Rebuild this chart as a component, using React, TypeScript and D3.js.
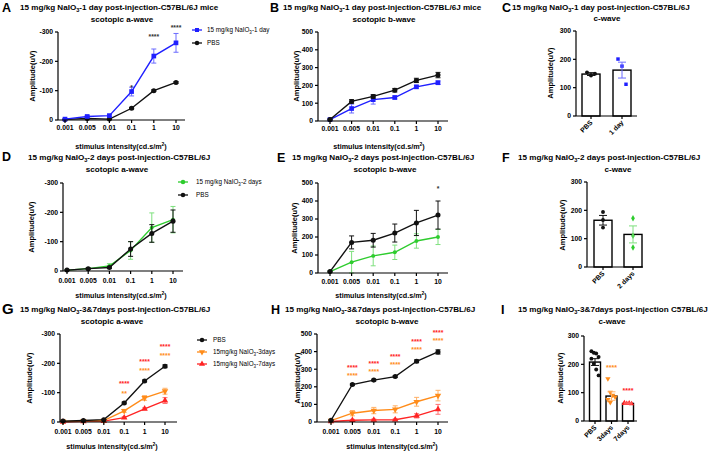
import React from "react";
import * as d3 from "d3";

const FONT = "'Liberation Sans', Arial, sans-serif";

const intensities = ["0.001", "0.005", "0.01", "0.1", "1", "10"];

// Panel A – a-wave, 1 day
const aDay1Mean = [3, 12, 15, 97, 218, 263];
const aDay1Err = [2, 3, 3, 15, 24, 32];
const aPbs1Mean = [2, 5, 3, 40, 100, 128];
const aPbs1Err = [1, 1, 1, 3, 3, 3];
// Panel B – b-wave, 1 day
const bPbs1Mean = [8, 110, 138, 173, 228, 258];
const bPbs1Err = [3, 10, 10, 10, 12, 15];
const bDay1Mean = [8, 70, 120, 132, 192, 215];
const bDay1Err = [3, 25, 25, 8, 8, 10];
// Panel C – c-wave, 1 day
const cGroups = ["PBS", "1 day"];
const cMean = [148, 162];
const cSem = [5, 28];
const cPtsPbs = [154, 143, 149];
const cPtsDay = [201, 176, 112];
// Panel D – a-wave, 2 days
const dDay2Mean = [3, 8, 17, 70, 148, 175];
const dDay2Err = [2, 3, 8, 30, 50, 45];
const dPbs2Mean = [3, 8, 12, 75, 128, 170];
const dPbs2Err = [1, 2, 3, 25, 30, 38];
// Panel E – b-wave, 2 days
const ePbs2Mean = [8, 170, 182, 222, 278, 322];
const ePbs2Err = [3, 36, 38, 50, 70, 78];
const eDay2Mean = [8, 60, 95, 115, 178, 200];
const eDay2Err = [3, 60, 55, 40, 40, 42];
// Panel F – c-wave, 2 days
const fGroups = ["PBS", "2 days"];
const fMean = [165, 115];
const fSem = [17, 30];
const fPtsPbs = [194, 166, 139];
const fPtsDay = [172, 110, 69];
// Panel G – a-wave, 3 & 7 days
const gPbsMean = [3, 5, 8, 65, 140, 190];
const gPbsErr = [1, 1, 1, 3, 3, 5];
const g3Mean = [2, 4, 5, 38, 82, 105];
const g3Err = [1, 1, 1, 5, 8, 10];
const g7Mean = [0, 2, 3, 15, 45, 73];
const g7Err = [1, 1, 1, 3, 3, 10];
// Panel H – b-wave, 3 & 7 days
const hPbsMean = [10, 213, 238, 258, 345, 398];
const hPbsErr = [3, 5, 5, 5, 8, 12];
const h3Mean = [8, 50, 65, 72, 115, 150];
const h3Err = [3, 15, 18, 20, 25, 30];
const h7Mean = [3, 10, 12, 13, 35, 72];
const h7Err = [2, 5, 5, 5, 12, 28];
// Panel I – c-wave, 3 & 7 days
const iGroups = ["PBS", "3days", "7days"];
const iMean = [208, 88, 62];
const iSem = [12, 15, 2];
const iPtsPbs = [246, 241, 238, 226, 220, 202, 182, 161];
const iPts3 = [149, 101, 91, 85, 76, 65];
const iPts7 = [64, 62, 63, 61, 62];

const BLUE = "#1f1fff";
const BLUE_E = "#6b6bff";
const GREEN = "#2ecc2e";
const GREEN_E = "#7ee07e";
const ORANGE = "#ff8c1a";
const ORANGE_E = "#ffb066";
const RED = "#ff2424";
const RED_E = "#ff7070";
const BLACK = "#111";

type Mk = "circle" | "square" | "tri" | "tridown" | "diamond";

const symPath = (t: Mk, size: number) => {
  const map: any = {
    circle: d3.symbolCircle,
    square: d3.symbolSquare,
    tri: d3.symbolTriangle,
    tridown: d3.symbolTriangle,
    diamond: d3.symbolDiamond,
  };
  return d3.symbol().type(map[t]).size(size)() as string;
};

function Marker({ t, x, y, color, size = 22 }: any) {
  return (
    <path
      d={symPath(t, size)}
      transform={`translate(${x},${y})${t === "tridown" ? " rotate(180)" : ""}`}
      fill={color}
    />
  );
}

type Series = { mean: number[]; err: number[]; color: string; errColor: string; mk: Mk; size?: number };
type Star = { i: number; v: number; text: string; color: string };

function XLabel({ x, y }: any) {
  return (
    <text x={x} y={y} textAnchor="middle" fontSize={7.2} fontWeight="bold" fontFamily={FONT}>
      stimulus intensity(cd.s/m
      <tspan fontSize={5} dy={-3}>2</tspan>
      <tspan dy={3}>)</tspan>
    </text>
  );
}

function YLabel({ x, y }: any) {
  return (
    <text
      transform={`translate(${x},${y}) rotate(-90)`}
      textAnchor="middle"
      fontSize={7.5}
      fontWeight="bold"
      fontFamily={FONT}
    >
      Amplitude(uV)
    </text>
  );
}

function Title({ letter, lx, ly, lsize = 12.5, x1, y1, rest, cx2, y2, line2 }: any) {
  return (
    <g fontFamily={FONT} fontWeight="bold">
      {letter ? (
        <text x={lx} y={ly} fontSize={lsize}>
          {letter}
        </text>
      ) : null}
      <text x={x1} y={y1} fontSize={8.1}>
        15 mg/kg NaIO
        <tspan fontSize={5.6} dy={2}>3</tspan>
        <tspan dy={-2}>{rest}</tspan>
      </text>
      <text x={cx2} y={y2} fontSize={8.1} textAnchor="middle">
        {line2}
      </text>
    </g>
  );
}

function LineChart(p: {
  axisX: number; yTop: number; yBottom: number; xFirst: number; xLast: number; xEnd: number;
  yMax: number; yTicks: number[]; negate?: boolean; series: Series[]; stars?: Star[];
  tickLabelY: number;
}) {
  const x = d3.scalePoint<string>().domain(intensities).range([p.xFirst, p.xLast]);
  const y = d3.scaleLinear().domain([0, p.yMax]).range([p.yBottom, p.yTop]);
  const line = d3
    .line<number>()
    .x((_, i) => x(intensities[i]) as number)
    .y((d) => y(d));
  return (
    <g fontFamily={FONT}>
      {p.series.map((s, si) => (
        <g key={si}>
          {s.mean.map((m, i) => {
            const cx = x(intensities[i]) as number;
            return (
              <g key={i} stroke={s.errColor} strokeWidth={1}>
                <line x1={cx} x2={cx} y1={y(m - s.err[i])} y2={y(m + s.err[i])} />
                <line x1={cx - 2.5} x2={cx + 2.5} y1={y(m - s.err[i])} y2={y(m - s.err[i])} />
                <line x1={cx - 2.5} x2={cx + 2.5} y1={y(m + s.err[i])} y2={y(m + s.err[i])} />
              </g>
            );
          })}
          <path d={line(s.mean) as string} fill="none" stroke={s.color} strokeWidth={1.4} />
          {s.mean.map((m, i) => (
            <Marker key={i} t={s.mk} x={x(intensities[i])} y={y(m)} color={s.color} size={s.size ?? 20} />
          ))}
        </g>
      ))}
      <line x1={p.axisX} x2={p.axisX} y1={p.yTop} y2={p.yBottom} stroke="#000" strokeWidth={1.2} />
      <line x1={p.axisX} x2={p.xEnd} y1={p.yBottom} y2={p.yBottom} stroke="#000" strokeWidth={1.2} />
      {p.yTicks.map((t) => (
        <g key={t}>
          <line x1={p.axisX - 3} x2={p.axisX} y1={y(t)} y2={y(t)} stroke="#000" strokeWidth={1.2} />
          <text x={p.axisX - 5} y={y(t) + 2.4} textAnchor="end" fontSize={6.8} fontWeight="bold">
            {p.negate && t !== 0 ? `-${t}` : `${t}`}
          </text>
        </g>
      ))}
      {intensities.map((c) => (
        <g key={c}>
          <line x1={x(c)} x2={x(c)} y1={p.yBottom} y2={p.yBottom + 3} stroke="#000" strokeWidth={1.2} />
          <text x={x(c)} y={p.tickLabelY} textAnchor="middle" fontSize={6.8} fontWeight="bold">
            {c}
          </text>
        </g>
      ))}
      {(p.stars || []).map((s, k) => (
        <text
          key={k}
          x={x(intensities[s.i])}
          y={y(s.v) + 3}
          textAnchor="middle"
          fontSize={6.8}
          fontWeight="bold"
          fill={s.color}
        >
          {s.text}
        </text>
      ))}
    </g>
  );
}

type BarGroup = { mean: number; sem: number; pts: number[]; color: string; errColor: string; mk: Mk };

function BarChart(p: {
  axisX: number; yTop: number; yBottom: number; centers: [number, number]; xEnd: number;
  barW: number; groups: string[]; data: BarGroup[]; stars?: { g: number; v: number; color: string }[];
  spread: number;
}) {
  const x = d3.scalePoint<string>().domain(p.groups).range(p.centers);
  const y = d3.scaleLinear().domain([0, 300]).range([p.yBottom, p.yTop]);
  return (
    <g fontFamily={FONT}>
      {p.data.map((g, gi) => {
        const cx = x(p.groups[gi]) as number;
        return (
          <g key={gi}>
            <rect
              x={cx - p.barW / 2}
              y={y(g.mean)}
              width={p.barW}
              height={p.yBottom - y(g.mean)}
              fill="#fff"
              stroke="#000"
              strokeWidth={1.4}
            />
            {g.pts.map((v, i) => {
              const n = g.pts.length;
              const off = n <= 3 ? (i - 1) * p.spread : ((i % 4) - 1.5) * p.spread * 0.8;
              return <Marker key={i} t={g.mk} x={cx + off} y={y(v)} color={g.color} size={12} />;
            })}
            <g stroke={g.errColor} strokeWidth={1}>
              <line x1={cx} x2={cx} y1={y(g.mean - g.sem)} y2={y(g.mean + g.sem)} />
              <line x1={cx - 4} x2={cx + 4} y1={y(g.mean - g.sem)} y2={y(g.mean - g.sem)} />
              <line x1={cx - 4} x2={cx + 4} y1={y(g.mean + g.sem)} y2={y(g.mean + g.sem)} />
            </g>
          </g>
        );
      })}
      <line x1={p.axisX} x2={p.axisX} y1={p.yTop} y2={p.yBottom} stroke="#000" strokeWidth={1.2} />
      <line x1={p.axisX} x2={p.xEnd} y1={p.yBottom} y2={p.yBottom} stroke="#000" strokeWidth={1.2} />
      {[0, 100, 200, 300].map((t) => (
        <g key={t}>
          <line x1={p.axisX - 3} x2={p.axisX} y1={y(t)} y2={y(t)} stroke="#000" strokeWidth={1.2} />
          <text x={p.axisX - 5} y={y(t) + 2.4} textAnchor="end" fontSize={6.8} fontWeight="bold">
            {t}
          </text>
        </g>
      ))}
      {p.groups.map((g) => (
        <g key={g}>
          <line x1={x(g)} x2={x(g)} y1={p.yBottom} y2={p.yBottom + 3} stroke="#000" strokeWidth={1.2} />
          <text
            transform={`translate(${(x(g) as number) + 2},${p.yBottom + 7}) rotate(-45)`}
            textAnchor="end"
            fontSize={6.8}
            fontWeight="bold"
          >
            {g}
          </text>
        </g>
      ))}
      {(p.stars || []).map((s, k) => (
        <text
          key={k}
          x={x(p.groups[s.g])}
          y={y(s.v) + 3}
          textAnchor="middle"
          fontSize={7}
          fontWeight="bold"
          fill={s.color}
        >
          ****
        </text>
      ))}
    </g>
  );
}

function Legend({ x, y, rows }: any) {
  return (
    <g fontFamily={FONT} fontSize={6.3}>
      {rows.map((r: any, i: number) => (
        <g key={i}>
          <line x1={x} x2={x + 10} y1={y + i * r.gap} y2={y + i * r.gap} stroke={r.color} strokeWidth={1.3} />
          <Marker t={r.mk} x={x + 5} y={y + i * r.gap} color={r.color} size={16} />
          <text x={x + r.tx} y={y + i * r.gap + 2.2}>
            {r.pre}
            {r.sub ? (
              <>
                <tspan fontSize={4.5} dy={1.5}>3</tspan>
                <tspan dy={-1.5}>{r.post}</tspan>
              </>
            ) : null}
          </text>
        </g>
      ))}
    </g>
  );
}

export default function App() {
  const aSeries: Series[] = [
    { mean: aPbs1Mean, err: aPbs1Err, color: BLACK, errColor: BLACK, mk: "circle" },
    { mean: aDay1Mean, err: aDay1Err, color: BLUE, errColor: BLUE_E, mk: "square", size: 22 },
  ];
  const bSeries: Series[] = [
    { mean: bDay1Mean, err: bDay1Err, color: BLUE, errColor: BLUE_E, mk: "square", size: 22 },
    { mean: bPbs1Mean, err: bPbs1Err, color: BLACK, errColor: BLACK, mk: "circle" },
  ];
  const dSeries: Series[] = [
    { mean: dDay2Mean, err: dDay2Err, color: GREEN, errColor: GREEN_E, mk: "circle", size: 12 },
    { mean: dPbs2Mean, err: dPbs2Err, color: BLACK, errColor: BLACK, mk: "circle" },
  ];
  const eSeries: Series[] = [
    { mean: eDay2Mean, err: eDay2Err, color: GREEN, errColor: GREEN_E, mk: "circle", size: 12 },
    { mean: ePbs2Mean, err: ePbs2Err, color: BLACK, errColor: BLACK, mk: "circle" },
  ];
  const gSeries: Series[] = [
    { mean: g7Mean, err: g7Err, color: RED, errColor: RED_E, mk: "tri", size: 18 },
    { mean: g3Mean, err: g3Err, color: ORANGE, errColor: ORANGE_E, mk: "tridown", size: 18 },
    { mean: gPbsMean, err: gPbsErr, color: BLACK, errColor: BLACK, mk: "circle" },
  ];
  const hSeries: Series[] = [
    { mean: h7Mean, err: h7Err, color: RED, errColor: RED_E, mk: "tri", size: 18 },
    { mean: h3Mean, err: h3Err, color: ORANGE, errColor: ORANGE_E, mk: "tridown", size: 18 },
    { mean: hPbsMean, err: hPbsErr, color: BLACK, errColor: BLACK, mk: "circle" },
  ];

  return (
    <svg
      width={718}
      height={452}
      style={{ position: "absolute", left: 0, top: 0, background: "#fff" }}
    >
      <rect width={718} height={452} fill="#fff" />

      {/* A */}
      <Title letter="A" lx={2} ly={12} x1={20} y1={10} rest="-1 day post-injection-C57BL/6J mice" cx2={122} y2={22} line2="scotopic a-wave" />
      <LineChart
        axisX={58} yTop={32} yBottom={120} xFirst={65} xLast={176} xEnd={185}
        yMax={300} yTicks={[0, 100, 200, 300]} negate series={aSeries} tickLabelY={130}
        stars={[
          { i: 3, v: 114, text: "*", color: "#333" },
          { i: 4, v: 288, text: "****", color: "#333" },
          { i: 5, v: 318, text: "****", color: "#333" },
        ]}
      />
      <XLabel x={121} y={149} />
      <YLabel x={35} y={76} />
      <Legend
        x={192} y={30}
        rows={[
          { color: BLUE, mk: "square", pre: "15 mg/kg NaIO", sub: true, post: "-1 day", tx: 15, gap: 13 },
          { color: BLACK, mk: "circle", pre: "PBS", tx: 15, gap: 13 },
        ]}
      />

      {/* B */}
      <Title letter="B" lx={270} ly={12} x1={283} y1={10} rest="-1 day post-injection-C57BL/6J mice" cx2={384} y2={22} line2="scotopic b-wave" />
      <LineChart
        axisX={318} yTop={32} yBottom={121} xFirst={330} xLast={438} xEnd={448}
        yMax={500} yTicks={[0, 100, 200, 300, 400, 500]} series={bSeries} tickLabelY={131}
      />
      <XLabel x={379} y={149} />
      <YLabel x={299} y={76} />

      {/* C */}
      <Title letter="C" lx={502} ly={12} x1={512} y1={10} rest="-1 day post-injection-C57BL/6J" cx2={607} y2={21} line2="c-wave" />
      <BarChart
        axisX={576} yTop={31} yBottom={116} centers={[591, 622]} xEnd={637} barW={18}
        groups={cGroups} spread={4}
        data={[
          { mean: cMean[0], sem: cSem[0], pts: cPtsPbs, color: BLACK, errColor: BLACK, mk: "circle" },
          { mean: cMean[1], sem: cSem[1], pts: cPtsDay, color: BLUE, errColor: BLUE_E, mk: "square" },
        ]}
      />
      <YLabel x={553} y={73} />

      {/* D */}
      <Title letter="D" lx={2} ly={161} x1={28} y1={160} rest="-2 days post-injection-C57BL/6J" cx2={117} y2={172} line2="scotopic a-wave" />
      <LineChart
        axisX={63} yTop={183} yBottom={271} xFirst={67} xLast={173} xEnd={183}
        yMax={300} yTicks={[0, 100, 200, 300]} negate series={dSeries} tickLabelY={283}
      />
      <XLabel x={121} y={298} />
      <YLabel x={34} y={227} />
      <Legend
        x={178} y={182}
        rows={[
          { color: GREEN, mk: "circle", pre: "15 mg/kg NaIO", sub: true, post: "-2 days", tx: 18, gap: 13 },
          { color: BLACK, mk: "circle", pre: "PBS", tx: 18, gap: 13 },
        ]}
      />

      {/* E */}
      <Title letter="E" lx={277} ly={162} x1={292} y1={160} rest="-2 days post-injection-C57BL/6J" cx2={385} y2={172} line2="scotopic b-wave" />
      <LineChart
        axisX={318} yTop={183} yBottom={273} xFirst={330} xLast={438} xEnd={448}
        yMax={500} yTicks={[0, 100, 200, 300, 400, 500]} series={eSeries} tickLabelY={284}
        stars={[{ i: 5, v: 470, text: "*", color: "#333" }]}
      />
      <XLabel x={381} y={298} />
      <YLabel x={297} y={228} />

      {/* F */}
      <Title letter="F" lx={502} ly={162} x1={518} y1={160} rest="-2 days post-injection-C57BL/6J" cx2={618} y2={172} line2="c-wave" />
      <BarChart
        axisX={587} yTop={182} yBottom={267} centers={[603, 633]} xEnd={643} barW={18}
        groups={fGroups} spread={0}
        data={[
          { mean: fMean[0], sem: fSem[0], pts: fPtsPbs, color: BLACK, errColor: BLACK, mk: "circle" },
          { mean: fMean[1], sem: fSem[1], pts: fPtsDay, color: GREEN, errColor: GREEN_E, mk: "diamond" },
        ]}
      />
      <YLabel x={565} y={225} />

      {/* G */}
      <Title letter="G" lx={2} ly={314} lsize={15} x1={20} y1={312} rest="-3&7days post-injection-C57BL/6J" cx2={112} y2={324} line2="scotopic a-wave" />
      <LineChart
        axisX={60} yTop={334} yBottom={422} xFirst={63} xLast={165} xEnd={177}
        yMax={300} yTicks={[0, 100, 200, 300]} negate series={gSeries} tickLabelY={434}
        stars={[
          { i: 3, v: 133, text: "****", color: RED },
          { i: 3, v: 99, text: "**", color: ORANGE },
          { i: 4, v: 207, text: "****", color: RED },
          { i: 4, v: 176, text: "****", color: ORANGE },
          { i: 5, v: 260, text: "****", color: RED },
          { i: 5, v: 228, text: "****", color: ORANGE },
        ]}
      />
      <XLabel x={112} y={449} />
      <YLabel x={32} y={378} />
      <Legend
        x={197} y={340}
        rows={[
          { color: BLACK, mk: "circle", pre: "PBS", tx: 16, gap: 12 },
          { color: ORANGE, mk: "tridown", pre: "15mg/kg NaIO", sub: true, post: "-3days", tx: 16, gap: 12 },
          { color: RED, mk: "tri", pre: "15mg/kg NaIO", sub: true, post: "-7days", tx: 16, gap: 12 },
        ]}
      />

      {/* H */}
      <Title letter="H" lx={271} ly={314} x1={285} y1={312} rest="-3&7days post-injection-C57BL/6J" cx2={387} y2={324} line2="scotopic b-wave" />
      <LineChart
        axisX={317} yTop={334} yBottom={422} xFirst={331} xLast={438} xEnd={448}
        yMax={500} yTicks={[0, 100, 200, 300, 400, 500]} series={hSeries} tickLabelY={434}
        stars={[
          { i: 1, v: 313, text: "****", color: RED },
          { i: 1, v: 266, text: "****", color: ORANGE },
          { i: 2, v: 336, text: "****", color: RED },
          { i: 2, v: 289, text: "****", color: ORANGE },
          { i: 3, v: 376, text: "****", color: RED },
          { i: 3, v: 329, text: "****", color: ORANGE },
          { i: 4, v: 461, text: "****", color: RED },
          { i: 4, v: 414, text: "****", color: ORANGE },
          { i: 5, v: 512, text: "****", color: RED },
          { i: 5, v: 465, text: "****", color: ORANGE },
        ]}
      />
      <XLabel x={392} y={449} />
      <YLabel x={300} y={378} />

      {/* I */}
      <Title letter="I" lx={501} ly={314} x1={518} y1={312} rest="-3&7days post-injection C57BL/6J" cx2={612} y2={324} line2="c-wave" />
      <BarChart
        axisX={584} yTop={336} yBottom={421} centers={[595, 628]} xEnd={637} barW={11}
        groups={iGroups} spread={3}
        data={[
          { mean: iMean[0], sem: iSem[0], pts: iPtsPbs, color: BLACK, errColor: BLACK, mk: "circle" },
          { mean: iMean[1], sem: iSem[1], pts: iPts3, color: ORANGE, errColor: ORANGE_E, mk: "tridown" },
          { mean: iMean[2], sem: iSem[2], pts: iPts7, color: RED, errColor: RED_E, mk: "tri" },
        ]}
        stars={[
          { g: 1, v: 190, color: ORANGE },
          { g: 2, v: 110, color: RED },
        ]}
      />
      <YLabel x={563} y={378} />
    </svg>
  );
}
